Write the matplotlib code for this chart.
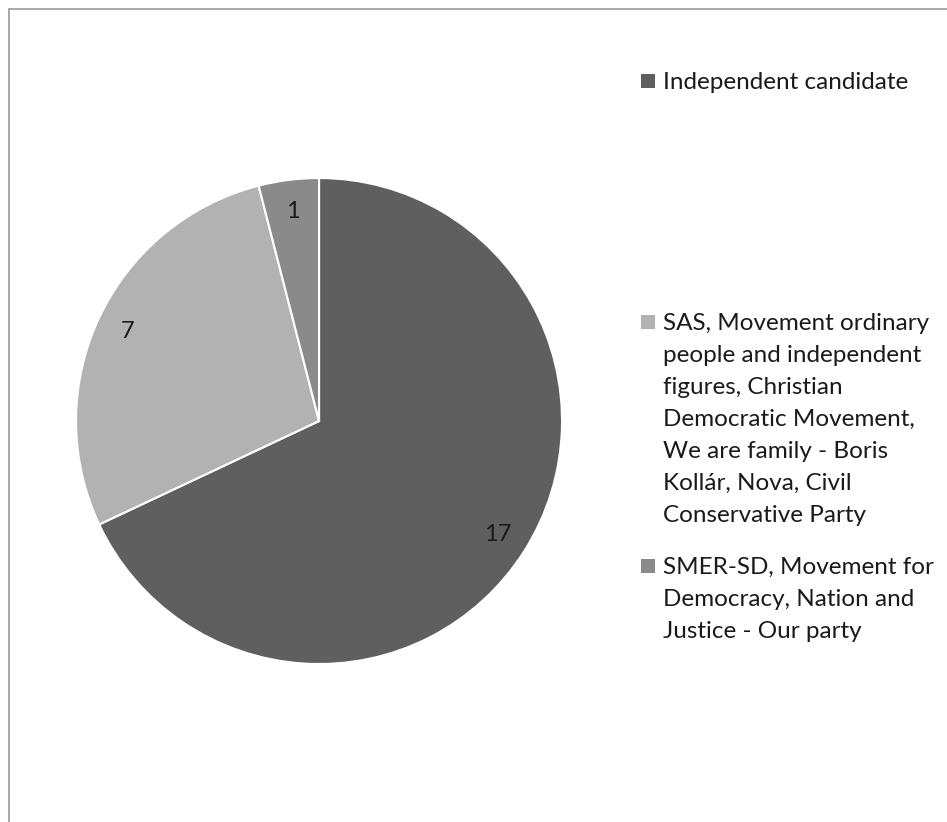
import matplotlib.pyplot as plt
from matplotlib.patches import Rectangle

# dados
parties = ['Independent candidate',
           'SAS, Movement ordinary\npeople and independent\nfigures, Christian\nDemocratic Movement,\nWe are family - Boris\nKollár, Nova, Civil\nConservative Party',
           'SMER-SD, Movement for\nDemocracy, Nation and\nJustice - Our party']
seats = [17, 7, 1]
colors = ['#5f5f5f', '#b2b2b2', '#8a8a8a']

plt.rcParams['font.family'] = ['Lato', 'DejaVu Sans']

fig = plt.figure(figsize=(9.47, 8.22), dpi=100)
ax = fig.add_axes([0.0803, 0.1922, 0.5132, 0.5912])

wedges, texts, autotexts = ax.pie(seats, colors=colors, startangle=90, counterclock=False,
                                  autopct=lambda p: '%d' % round(p * sum(seats) / 100),
                                  pctdistance=0.87, radius=1,
                                  wedgeprops=dict(edgecolor='white', linewidth=1.5),
                                  textprops=dict(fontsize=17, color='#1a1a1a'))
ax.set_xlim(-1, 1)
ax.set_ylim(-1, 1)
ax.set_aspect('equal')

# legenda manual
y_tops = [81, 322, 566]
for lab, col, yt in zip(parties, colors, y_tops):
    fig.patches.append(Rectangle((641 / 947, 1 - (yt + 7) / 822), 14 / 947, 14 / 822,
                                 transform=fig.transFigure, facecolor=col, edgecolor='none'))
    fig.text(663 / 947, 1 - (yt - 9) / 822, lab, fontsize=17.5, color='#1a1a1a',
             va='top', ha='left', linespacing=1.65)

# borda
fig.patches.append(Rectangle((8.5 / 947, -0.05), 1.1, 1 - 9.5 / 822 + 0.05,
                             transform=fig.transFigure, facecolor='none',
                             edgecolor='#9a9a9a', linewidth=1.2))

fig.savefig('out.png', dpi=100)
